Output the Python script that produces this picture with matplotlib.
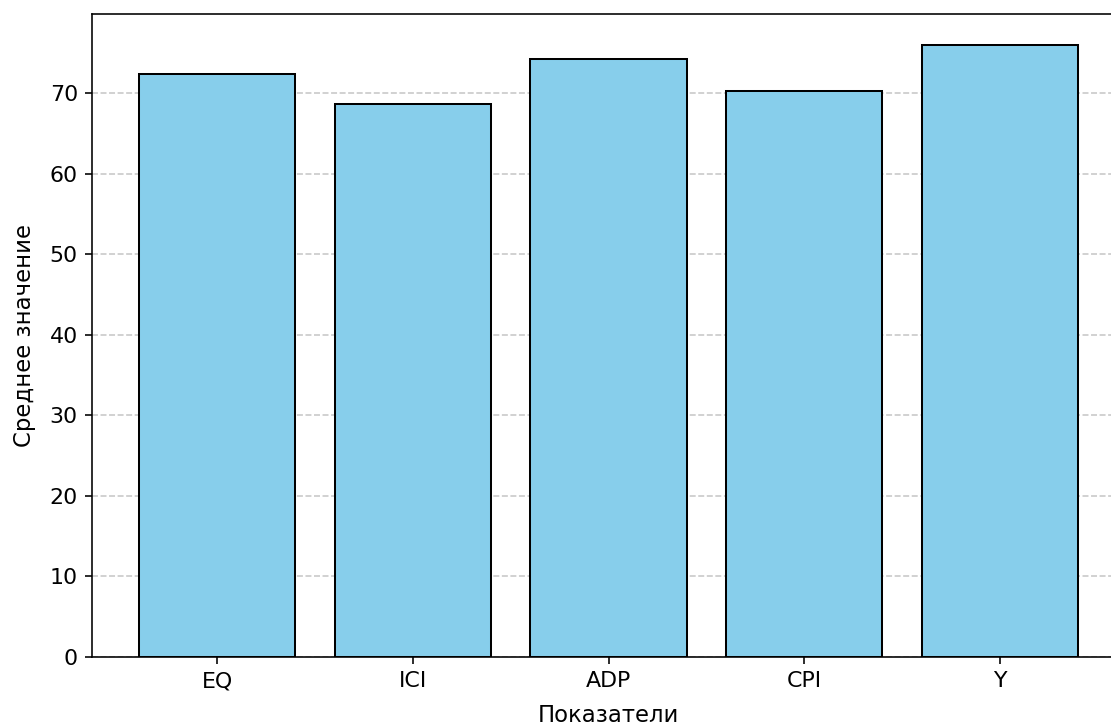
import matplotlib
matplotlib.use("Agg")
import matplotlib.pyplot as plt

categories = ["EQ", "ICI", "ADP", "CPI", "Y"]
values = [72.4, 68.6, 74.2, 70.3, 76.0]

DPI = 145
fig = plt.figure(figsize=(1111/DPI, 725/DPI), dpi=DPI)
ax = fig.add_axes([92/1111, 68/725, (1125-92)/1111, 643/725])
ax.bar(categories, values, color="skyblue", edgecolor="black")
ax.set_xlabel("Показатели", fontsize=11.3, labelpad=6.5)
ax.set_ylabel("Среднее значение", fontsize=11.3, labelpad=7)
ax.tick_params(labelsize=11)
ax.yaxis.grid(True, linestyle="--", alpha=0.7)
ax.set_axisbelow(True)
fig.savefig("out.png", dpi=DPI)
